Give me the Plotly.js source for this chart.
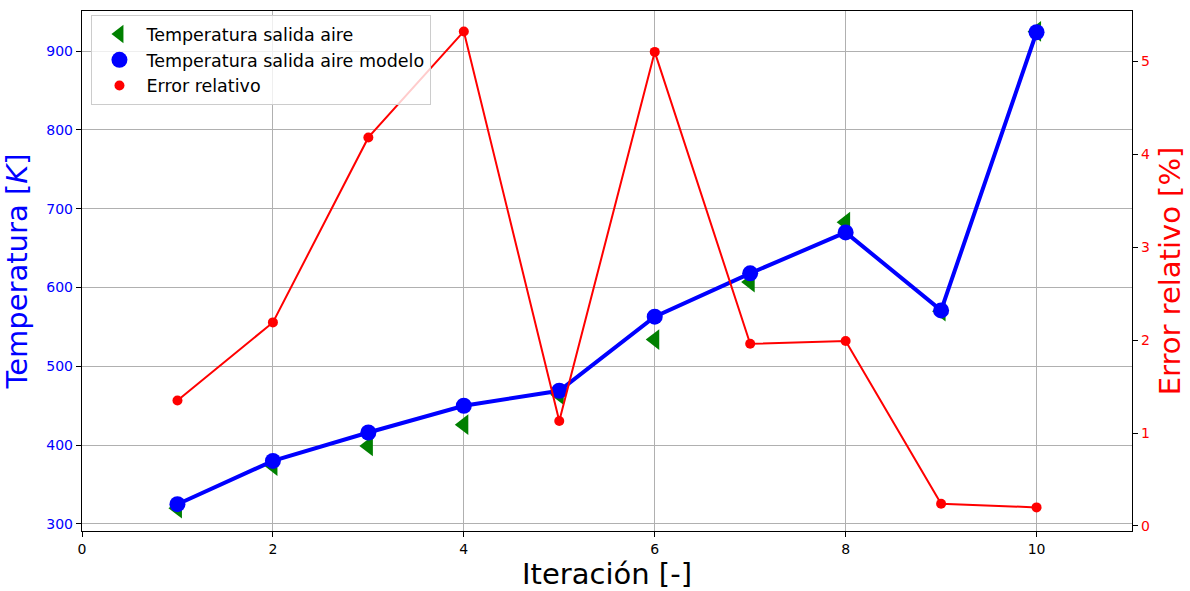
<!DOCTYPE html>
<html>
<head>
<meta charset="utf-8">
<script src="https://cdn.plot.ly/plotly-3.0.1.min.js"></script>
<style>html,body{margin:0;padding:0;background:#fff;}#chart{width:1190px;height:591px;}</style>
</head>
<body>
<div id="chart"></div>
<script>
const iteraciones = [1, 2, 3, 4, 5, 6, 7, 8, 9, 10];
const tempMedida = [320, 374, 399, 426, 464, 534, 607, 683, 570, 925];
const tempModelo = [325, 380, 416, 450, 469, 563, 618, 670, 571, 924];
const errorRelativo = [1.35, 2.19, 4.18, 5.32, 1.13, 5.10, 1.96, 1.99, 0.24, 0.20];

const FONT = 'DejaVu Sans, sans-serif';

const traces = [
  {x: iteraciones, y: tempMedida, mode: 'markers', name: 'Temperatura salida aire',
   marker: {symbol: 'triangle-left', size: 18, color: '#008000'}, yaxis: 'y', legendrank: 1},
  {x: iteraciones, y: tempModelo, mode: 'lines', showlegend: false,
   line: {color: '#0000ff', width: 4}, yaxis: 'y'},
  {x: iteraciones, y: tempModelo, mode: 'markers', name: 'Temperatura salida aire modelo',
   marker: {symbol: 'circle', size: 16, color: '#0000ff'}, yaxis: 'y', legendrank: 2},
  {x: iteraciones, y: errorRelativo, mode: 'lines', showlegend: false,
   line: {color: '#ff0000', width: 2}, yaxis: 'y2'},
  {x: iteraciones, y: errorRelativo, mode: 'markers', name: 'Error relativo',
   marker: {symbol: 'circle', size: 10, color: '#ff0000'}, yaxis: 'y2', legendrank: 3}
];

const layout = {
  width: 1190, height: 591,
  margin: {l: 82, r: 58, t: 11, b: 60, pad: 0},
  paper_bgcolor: '#ffffff', plot_bgcolor: '#ffffff',
  font: {family: FONT, size: 14, color: '#000'},
  showlegend: true,
  legend: {x: 0.009, y: 0.992, xanchor: 'left', yanchor: 'top',
    bgcolor: 'rgba(255,255,255,0.8)', bordercolor: '#cccccc', borderwidth: 1,
    itemwidth: 44,
    font: {family: FONT, size: 17.5, color: '#000'}, tracegroupgap: 0},
  xaxis: {range: [0, 11], tickvals: [0, 2, 4, 6, 8, 10], showgrid: true, gridcolor: '#b0b0b0', gridwidth: 1,
    zeroline: false, showline: true, linecolor: '#000', linewidth: 1.2, mirror: true,
    ticks: 'outside', ticklen: 5, tickcolor: '#000', tickfont: {family: FONT, size: 14, color: '#000'},
    title: {text: 'Iteración [-]', font: {family: FONT, size: 29, color: '#000'}, standoff: 10}},
  yaxis: {range: [291, 951], tickvals: [300, 400, 500, 600, 700, 800, 900], showgrid: true, gridcolor: '#b0b0b0', gridwidth: 1,
    zeroline: false, showline: true, linecolor: '#000', linewidth: 1.2,
    ticks: 'outside', ticklen: 5, tickcolor: '#000', tickfont: {family: FONT, size: 14, color: '#0000ff'},
    title: {text: 'Temperatura [<i>K</i>]', font: {family: FONT, size: 29, color: '#0000ff'}, standoff: 10}},
  yaxis2: {range: [-0.054, 5.54], tickvals: [0, 1, 2, 3, 4, 5], overlaying: 'y', side: 'right', showgrid: false,
    zeroline: false, showline: true, linecolor: '#000', linewidth: 1.2,
    ticks: 'outside', ticklen: 5, tickcolor: '#000', tickfont: {family: FONT, size: 14, color: '#ff0000'},
    title: {text: 'Error relativo [%]', font: {family: FONT, size: 29, color: '#ff0000'}, standoff: 10}}
};

Plotly.newPlot('chart', traces, layout, {displayModeBar: false, staticPlot: true});
</script>
</body>
</html>
